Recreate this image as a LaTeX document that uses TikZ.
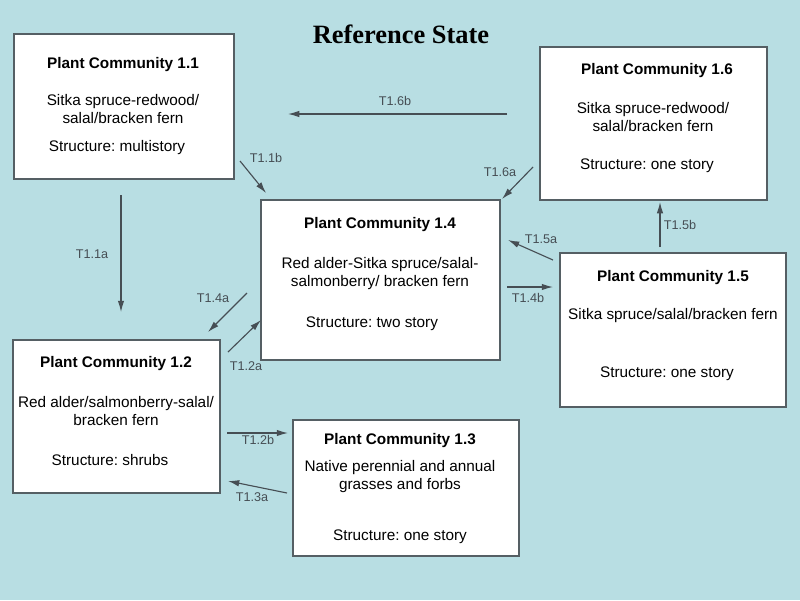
\documentclass[tikz,border=0pt]{standalone}
\usepackage{fontspec}
\setmainfont{Liberation Sans}
\newfontfamily\titlefont{Liberation Serif}
\frenchspacing
\usetikzlibrary{arrows.meta}
\definecolor{bgblue}{RGB}{184,222,227}
\definecolor{boxline}{RGB}{85,95,100}
\definecolor{arrowgray}{RGB}{70,78,84}
\tikzstyle{pc}=[draw=boxline, fill=white, line width=1pt, inner sep=0pt, outer sep=0pt]
\tikzstyle{pchead}=[font=\fontsize{10.9}{12.8}\selectfont\bfseries, inner sep=0pt]
\tikzstyle{pctext}=[font=\fontsize{10.9}{12.8}\selectfont, align=center, inner sep=0pt]
\tikzstyle{trans}=[->, draw=arrowgray, line width=0.8pt]
\tikzstyle{tlabel}=[font=\fontsize{9}{11}\selectfont, text=arrowgray, inner sep=0pt]

\begin{document}
\begin{tikzpicture}[x=0.025cm,y=-0.025cm,>={Latex[length=8pt,width=4.6pt]}]
      \fill[bgblue] (0,0) rectangle (800,600);
      \useasboundingbox (0,0) rectangle (800,600);
      \node[font=\titlefont\fontsize{18.8}{22}\selectfont\bfseries] (title) at (401,34) {Reference State};

      % plant community boxes
      \node[pc, minimum width=5.5cm, minimum height=3.625cm] (pc11) at (124,106.5) {};
      \node[pc, minimum width=5.675cm, minimum height=3.825cm] (pc16) at (653.5,123.5) {};
      \node[pc, minimum width=5.975cm, minimum height=4cm] (pc14) at (380.5,280) {};
      \node[pc, minimum width=5.65cm, minimum height=3.85cm] (pc15) at (673,330) {};
      \node[pc, minimum width=5.175cm, minimum height=3.825cm] (pc12) at (116.5,416.5) {};
      \node[pc, minimum width=5.65cm, minimum height=3.4cm] (pc13) at (406,488) {};

      \node[pchead] (pc11h) at (123,65) {Plant Community 1.1};
      \node[pctext] (pc11d) at (123,109) {Sitka spruce-redwood/\\salal/bracken fern};
      \node[pctext] (pc11s) at (117,148) {Structure: multistory};

      \node[pchead] (pc16h) at (657,71) {Plant Community 1.6};
      \node[pctext] (pc16d) at (653,117.5) {Sitka spruce-redwood/\\salal/bracken fern};
      \node[pctext] (pc16s) at (647,166) {Structure: one story};

      \node[pchead] (pc14h) at (380,225) {Plant Community 1.4};
      \node[pctext] (pc14d) at (380,274) {Red alder-Sitka spruce/salal-\\salmonberry/ bracken fern};
      \node[pctext] (pc14s) at (372,324) {Structure: two story};

      \node[pchead] (pc15h) at (673,278) {Plant Community 1.5};
      \node[pctext] (pc15d) at (673,316) {Sitka spruce/salal/bracken fern};
      \node[pctext] (pc15s) at (667,374) {Structure: one story};

      \node[pchead] (pc12h) at (116,364) {Plant Community 1.2};
      \node[pctext] (pc12d) at (116,411) {Red alder/salmonberry-salal/\\bracken fern};
      \node[pctext] (pc12s) at (110,460) {Structure: shrubs};

      \node[pchead] (pc13h) at (400,441) {Plant Community 1.3};
      \node[pctext] (pc13d) at (400,477) {Native perennial and annual\\grasses and forbs};
      \node[pctext] (pc13s) at (400,537) {Structure: one story};

      % transitions
      \coordinate (t16b-s) at (507,114);  \coordinate (t16b-e) at (288,114);
      \coordinate (t11b-s) at (240,161);  \coordinate (t11b-e) at (266,193);
      \coordinate (t16a-s) at (533,167);  \coordinate (t16a-e) at (502,199);
      \coordinate (t11a-s) at (121,195);  \coordinate (t11a-e) at (121,312);
      \coordinate (t14a-s) at (247,293);  \coordinate (t14a-e) at (208,332);
      \coordinate (t12a-s) at (228,352);  \coordinate (t12a-e) at (261,320);
      \coordinate (t15a-s) at (553,260);  \coordinate (t15a-e) at (508,240);
      \coordinate (t14b-s) at (507,287);  \coordinate (t14b-e) at (553,287);
      \coordinate (t15b-s) at (660,247);  \coordinate (t15b-e) at (660,202);
      \coordinate (t12b-s) at (227,433);  \coordinate (t12b-e) at (288,433);
      \coordinate (t13a-s) at (287,493);  \coordinate (t13a-e) at (228,481);

      \draw[trans] (t16b-s) -- (t16b-e);
      \draw[trans] (t11b-s) -- (t11b-e);
      \draw[trans] (t16a-s) -- (t16a-e);
      \draw[trans] (t11a-s) -- (t11a-e);
      \draw[trans] (t14a-s) -- (t14a-e);
      \draw[trans] (t12a-s) -- (t12a-e);
      \draw[trans] (t15a-s) -- (t15a-e);
      \draw[trans] (t14b-s) -- (t14b-e);
      \draw[trans] (t15b-s) -- (t15b-e);
      \draw[trans] (t12b-s) -- (t12b-e);
      \draw[trans] (t13a-s) -- (t13a-e);

      \node[tlabel] (t16b) at (395,101) {T1.6b};
      \node[tlabel] (t11b) at (266,158) {T1.1b};
      \node[tlabel] (t16a) at (500,172) {T1.6a};
      \node[tlabel] (t11a) at (92,254) {T1.1a};
      \node[tlabel] (t14a) at (213,298) {T1.4a};
      \node[tlabel] (t12a) at (246,366) {T1.2a};
      \node[tlabel] (t15a) at (541,239) {T1.5a};
      \node[tlabel] (t14b) at (528,298) {T1.4b};
      \node[tlabel] (t15b) at (680,225) {T1.5b};
      \node[tlabel] (t12b) at (258,440) {T1.2b};
      \node[tlabel] (t13a) at (252,497) {T1.3a};
  \end{tikzpicture}
\end{document}
